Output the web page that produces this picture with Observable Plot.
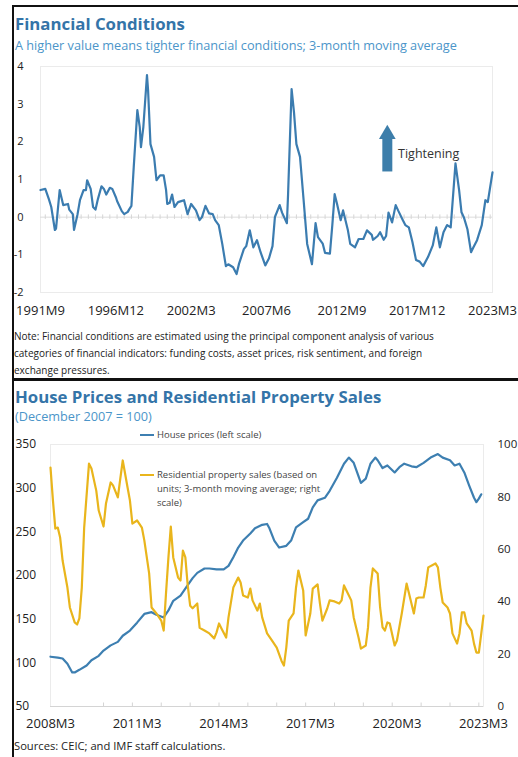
<!DOCTYPE html>
<html><head><meta charset="utf-8">
<script src="https://cdn.jsdelivr.net/npm/d3@7"></script>
<script src="https://cdn.jsdelivr.net/npm/@observablehq/plot@0.6"></script>
<style>
body{margin:0;background:#fff;font-family:"Open Sans",sans-serif;}
#page{position:relative;width:518px;height:757px;overflow:hidden;background:#fff;}
.abs{position:absolute;white-space:nowrap;}
.title{font-weight:700;color:#3474a8;font-size:16.8px;line-height:20px;}
.sub{color:#4b95c9;font-size:12.7px;line-height:16px;}
.note{color:#222;font-size:10px;line-height:17px;}
.leg{color:#444;font-size:9.5px;line-height:14px;}
.sw{position:absolute;height:2px;width:14px;}
svg{position:absolute;left:0;}
</style></head>
<body><div id="page">
<div class="abs" style="left:12px;top:5px;width:520px;height:371px;border-left:2px solid #111;border-top:2px solid #111;border-bottom:2px solid #111;"></div>
<div class="abs" style="left:12px;top:379px;width:520px;height:400px;border-left:2px solid #111;border-top:2px solid #111;"></div>
<div class="abs title" style="left:15px;top:14px;">Financial Conditions</div>
<div class="abs sub" style="left:15px;top:37px;">A higher value means tighter financial conditions; 3-month moving average</div>
<div id="c1" class="abs" style="left:0;top:50px;width:518px;height:270px;"></div>
<div class="abs note" style="left:14px;top:328px;">Note: Financial conditions are estimated using the principal component analysis of various<br>categories of financial indicators: funding costs, asset prices, risk sentiment, and foreign<br>exchange pressures.</div>
<div class="abs title" style="left:15px;top:387px;">House Prices and Residential Property Sales</div>
<div class="abs sub" style="left:15px;top:408px;">(December 2007 = 100)</div>
<div id="c2" class="abs" style="left:0;top:430px;width:518px;height:305px;"></div>
<div id="c3" class="abs" style="left:0;top:430px;width:518px;height:305px;"></div>
<div class="sw" style="left:140px;top:434px;background:#3d7fb1;"></div>
<div class="abs leg" style="left:157px;top:428px;">House prices (left scale)</div>
<div class="sw" style="left:140px;top:474px;background:#e9b51c;"></div>
<div class="abs leg" style="left:157px;top:468px;">Residential property sales (based on<br>units; 3-month moving average; right<br>scale)</div>
<div class="abs note" style="left:14px;top:737px;font-size:11.2px;">Sources: CEIC; and IMF staff calculations.</div>
</div>
<script>
const parse = d3.utcParse("%Y-%m");
const fmt = d3.utcFormat("%Y-%m");

// ---- Financial conditions index (3-month moving average) ----
const fciDates = ["1991-09","1992-01","1992-04","1992-06","1992-09","1992-10","1993-01","1993-04","1993-08","1993-09","1993-12","1994-01","1994-04","1994-06","1994-09","1994-11","1994-12","1995-03","1995-05","1995-07","1995-09","1995-12","1996-02","1996-04","1996-07","1996-09","1996-12","1997-01","1997-05","1997-07","1997-10","1997-11","1998-01","1998-03","1998-06","1998-08","1998-09","1998-11","1999-02","1999-03","1999-05","1999-08","1999-10","2000-01","2000-04","2000-06","2000-07","2000-09","2000-11","2001-01","2001-04","2001-06","2001-09","2001-12","2002-03","2002-07","2002-10","2002-12","2003-03","2003-06","2003-09","2003-11","2004-02","2004-05","2004-08","2004-10","2005-02","2005-05","2005-07","2005-11","2006-01","2006-04","2006-07","2006-10","2007-01","2007-05","2007-08","2007-11","2008-01","2008-05","2008-07","2008-11","2008-12","2009-03","2009-05","2009-07","2009-10","2010-01","2010-04","2010-08","2010-11","2011-01","2011-05","2011-07","2011-11","2012-01","2012-03","2012-05","2012-08","2012-10","2013-02","2013-04","2013-08","2013-11","2014-03","2014-06","2014-10","2014-11","2015-03","2015-05","2015-08","2015-10","2015-12","2016-03","2016-06","2016-08","2016-12","2017-02","2017-05","2017-08","2017-11","2018-02","2018-05","2018-09","2019-01","2019-04","2019-07","2019-10","2020-01","2020-04","2020-08","2020-11","2021-01","2021-03","2021-06","2021-09","2021-11","2022-02","2022-06","2022-09","2022-11","2023-03"];
const fciValues = [0.72,0.75,0.48,0.27,-0.34,-0.30,0.72,0.32,0.35,0.20,0.08,-0.34,0.08,0.45,0.72,0.72,0.98,0.75,0.27,0.20,0.48,0.82,0.75,0.60,0.78,0.75,0.53,0.43,0.16,0.08,0.14,0.20,0.30,1.33,2.84,2.39,1.86,2.40,3.77,3.37,1.94,1.60,0.98,1.11,1.11,0.72,0.35,0.38,0.60,0.27,0.40,0.42,0.45,0.08,0.35,0.18,-0.08,0.00,0.30,0.10,0.08,-0.08,-0.21,-0.71,-1.30,-1.25,-1.33,-1.51,-1.24,-0.85,-0.77,-0.35,-0.80,-0.61,-0.93,-1.28,-1.10,-0.77,0.00,0.32,0.12,-0.16,0.60,3.40,2.78,1.94,1.60,0.45,-0.71,-1.25,-0.16,-0.53,-0.70,-0.95,-0.97,-0.21,0.61,0.35,-0.08,0.18,-0.35,-0.71,-0.80,-0.58,-0.58,-0.35,-0.47,-0.60,-0.50,-0.40,-0.60,-0.50,0.12,-0.14,0.32,0.18,-0.08,-0.21,-0.27,-0.66,-1.14,-1.18,-1.30,-1.06,-0.75,-0.27,-0.80,-0.40,-0.21,-0.27,1.43,0.72,0.13,0.00,-0.32,-0.93,-0.80,-0.61,-0.21,0.45,0.40,1.19];
const fciTickDates = ["1991-09","1996-12","2002-03","2007-06","2012-09","2017-12","2023-03"];
const fciTickLabels = ["1991M9","1996M12","2002M3","2007M6","2012M9","2017M12","2023M3"];
const fciYTicks = [-2,-1,0,1,2,3,4];

// ---- House prices (left scale) ----
const hpDates = ["2008-03","2008-06","2008-08","2008-10","2008-12","2009-01","2009-03","2009-06","2009-08","2009-11","2010-01","2010-04","2010-07","2010-09","2010-12","2011-03","2011-06","2011-09","2011-11","2012-02","2012-04","2012-06","2012-09","2012-12","2013-02","2013-04","2013-07","2013-09","2013-12","2014-03","2014-05","2014-07","2014-09","2014-11","2015-02","2015-04","2015-07","2015-09","2015-10","2015-12","2016-02","2016-05","2016-07","2016-09","2016-12","2017-02","2017-04","2017-06","2017-09","2017-11","2018-02","2018-05","2018-07","2018-09","2018-12","2019-02","2019-04","2019-06","2019-07","2019-09","2019-11","2020-02","2020-04","2020-06","2020-09","2020-11","2021-02","2021-05","2021-08","2021-10","2022-01","2022-03","2022-05","2022-07","2022-09","2022-11","2022-12","2023-01","2023-02"];
const hpValues = [107,106,105,99,89,89,92,97,103,108,114,120,124,131,137,146,156,158,155,152,160,171,177,189,197,203,208,208,207,207,211,221,232,240,248,254,258,259,254,240,232,234,240,255,261,265,278,286,289,297,312,328,335,329,306,311,328,335,332,323,326,318,324,328,325,324,329,335,339,335,332,326,328,318,303,289,284,288,293];

// ---- Residential property sales (right scale) ----
const salesDates = ["2008-03","2008-04","2008-05","2008-06","2008-07","2008-08","2008-10","2008-11","2009-01","2009-02","2009-03","2009-04","2009-05","2009-07","2009-08","2009-10","2009-11","2010-01","2010-02","2010-04","2010-05","2010-07","2010-08","2010-09","2010-11","2010-12","2011-01","2011-03","2011-05","2011-06","2011-08","2011-09","2011-11","2012-01","2012-02","2012-03","2012-04","2012-05","2012-06","2012-08","2012-09","2012-10","2012-11","2012-12","2013-01","2013-02","2013-04","2013-05","2013-07","2013-09","2013-11","2013-12","2014-01","2014-02","2014-04","2014-05","2014-07","2014-09","2014-10","2014-11","2015-01","2015-02","2015-03","2015-05","2015-06","2015-07","2015-09","2015-11","2016-01","2016-03","2016-04","2016-05","2016-06","2016-08","2016-09","2016-10","2016-12","2017-01","2017-03","2017-04","2017-06","2017-07","2017-08","2017-10","2017-11","2018-01","2018-03","2018-04","2018-05","2018-06","2018-08","2018-09","2018-11","2018-12","2019-02","2019-03","2019-04","2019-05","2019-07","2019-08","2019-09","2019-10","2019-11","2019-12","2020-02","2020-03","2020-05","2020-07","2020-08","2020-10","2020-11","2020-12","2021-02","2021-03","2021-04","2021-07","2021-08","2021-09","2021-10","2021-12","2022-01","2022-02","2022-04","2022-05","2022-06","2022-07","2022-08","2022-10","2022-11","2022-12","2023-01","2023-02","2023-03"];
const salesValues = [91.2,78.6,67.9,68.3,64.5,55.7,45.4,37.8,32.1,31.3,33.6,45.4,68.3,92.7,90.8,82.4,74.8,68.7,77.5,85.5,84.4,79.8,87,93.9,83.6,78.6,69.8,71,68.3,63.4,50.8,37.8,35.5,32.8,29,43.1,56.9,68.7,56.9,49.2,48.1,59.5,56.9,46.2,38.5,37.5,39.3,30,29,27.9,26,28.3,31.7,29.8,26.3,34,45.4,49.2,47.3,42.4,41.6,45,40.5,36.6,39.3,34,27.9,25.2,22.5,17.5,15.6,22.5,32.8,35.5,45.4,51.9,44.3,27.1,35.5,45,46.6,39.3,32.8,37.4,40.5,40.1,39.3,40.5,46.2,44.3,40.5,34,26.3,22.1,23.3,30.2,45.4,52.7,50.8,37.8,30.2,29,32.1,31.7,23.3,25.2,35.5,46.9,43.1,35.5,41.2,41.6,41.6,46.2,53.1,54.6,53.1,45.4,39.7,37.8,35.5,27.9,24,27.9,35.9,35.9,31.7,29,24,20.6,20.6,27.9,34.7];
const hpTickDates = ["2008-03","2011-03","2014-03","2017-03","2020-03","2023-03"];
const hpTickLabels = ["2008M3","2011M3","2014M3","2017M3","2020M3","2023M3"];
const leftTicks = [50,100,150,200,250,300,350];
const rightTicks = [0,20,40,60,80,100];

const blue = "#3b7cb0";
const hpBlue = "#3d7fb1";
const gold = "#e9b51c";
const font = "Open Sans";
const plain = d => String(d);

// ---- Chart 1 ----
const fciData = fciDates.map((d, i) => ({date: parse(d), value: fciValues[i]}));
const fciLabel = d => fciTickLabels[fciTickDates.indexOf(fmt(d))];
const halfYears = d3.utcMonth.every(6).range(parse("1991-10"), parse("2023-03"));
const c1 = Plot.plot({
  width: 518, height: 270,
  marginTop: 16, marginBottom: 28, marginLeft: 40, marginRight: 26,
  style: {fontFamily: font, color: "#222", background: "transparent", overflow: "visible"},
  x: {type: "utc", domain: [parse("1991-09"), parse("2023-03")]},
  y: {domain: [-2, 4]},
  marks: [
    Plot.frame({stroke: "#ebebeb"}),
    Plot.ruleY([0], {stroke: "#dcdcdc"}),
    Plot.ruleX(halfYears, {y1: -0.06, y2: 0.06, stroke: "#d6d6d6"}),
    Plot.line(fciData, {x: "date", y: "value", stroke: blue, strokeWidth: 2.2}),
    Plot.ruleX([parse("2015-11")], {y1: 1.2, y2: 2.15, stroke: "#3d7eaa", strokeWidth: 10}),
    Plot.dot([parse("2015-11")], {x: d => d, y: 2.2, symbol: "triangle", r: 6.2, fill: "#3d7eaa"}),
    Plot.text(["Tightening"], {x: parse("2016-08"), y: 1.67, text: d => d, textAnchor: "start", fontSize: 12.5, fill: "#333"}),
    Plot.axisX({ticks: fciTickDates.map(parse), tickFormat: fciLabel, tickSize: 0, tickPadding: 13, fontSize: 13, label: null}),
    Plot.axisY({ticks: fciYTicks, tickFormat: plain, tickSize: 0, tickPadding: 17, fontSize: 11, label: null})
  ]
});
document.getElementById("c1").append(c1);

// ---- Chart 2: house prices (left scale) ----
const hpData = hpDates.map((d, i) => ({date: parse(d), value: hpValues[i]}));
const salesData = salesDates.map((d, i) => ({date: parse(d), value: salesValues[i]}));
const hpLabel = d => hpTickLabels[hpTickDates.indexOf(fmt(d))];
const years = d3.utcMonth.every(12).range(parse("2009-03"), parse("2023-03"));
const xDomain = [parse("2008-03"), parse("2023-03")];
const common = {
  width: 518, height: 305,
  marginTop: 14, marginBottom: 29, marginLeft: 50, marginRight: 35,
  style: {fontFamily: font, color: "#222", background: "transparent", overflow: "visible"}
};
const c2 = Plot.plot({
  ...common,
  x: {type: "utc", domain: xDomain},
  y: {domain: [50, 350]},
  marks: [
    Plot.frame({stroke: "#ebebeb"}),
    Plot.ruleY([50], {stroke: "#d4d4d4"}),
    Plot.ruleX(years, {y1: 50, y2: 54, stroke: "#d4d4d4"}),
    Plot.line(hpData, {x: "date", y: "value", stroke: hpBlue, strokeWidth: 2.2}),
    Plot.axisX({ticks: hpTickDates.map(parse), tickFormat: hpLabel, tickSize: 0, tickPadding: 12, fontSize: 13, label: null}),
    Plot.axisY({ticks: leftTicks, tickFormat: plain, tickSize: 0, tickPadding: 35, textAnchor: "start", fontSize: 12, label: null})
  ]
});
document.getElementById("c2").append(c2);

// ---- Chart 2 overlay: sales (right scale) ----
const c3 = Plot.plot({
  ...common,
  x: {type: "utc", domain: xDomain, axis: null},
  y: {domain: [0, 100], axis: null},
  marks: [
    Plot.line(salesData, {x: "date", y: "value", stroke: gold, strokeWidth: 2.2}),
    Plot.axisY({anchor: "right", ticks: rightTicks, tickFormat: plain, tickSize: 0, tickPadding: 14, fontSize: 11.5, label: null})
  ]
});
document.getElementById("c3").append(c3);
</script>
</body></html>
